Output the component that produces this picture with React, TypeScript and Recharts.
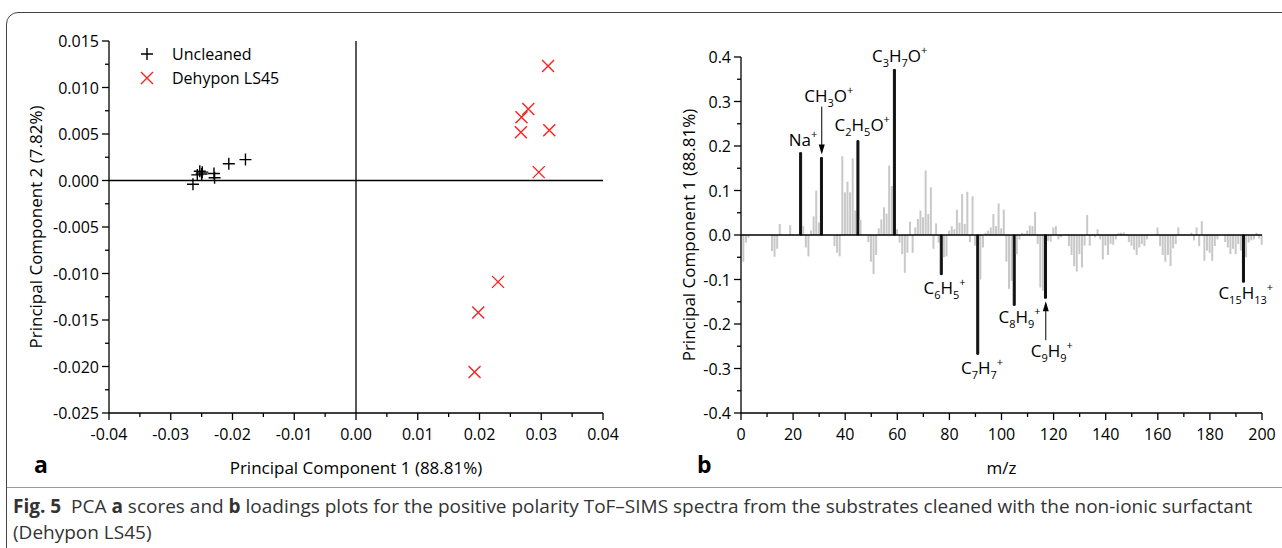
import React from 'react';
import {
  ScatterChart, Scatter, BarChart, Bar, Cell, XAxis, YAxis, ReferenceLine, ReferenceDot,
} from 'recharts';

const FONT = '"Open Sans", "Noto Sans", sans-serif';

// panel a: PCA scores (PC1, PC2) per sample
const uncleanedPC1 = [-0.0264, -0.0257, -0.0253, -0.0249, -0.0250, -0.0230, -0.0229, -0.0206, -0.0179];
const uncleanedPC2 = [-0.0004, 0.0006, 0.0010, 0.0009, 0.0007, 0.00075, 0.0003, 0.0018, 0.00225];
const dehyponPC1 = [0.0311, 0.0279, 0.0268, 0.0267, 0.0313, 0.0296, 0.0230, 0.0198, 0.0192];
const dehyponPC2 = [0.0123, 0.0077, 0.0068, 0.0052, 0.0054, 0.0009, -0.0109, -0.0142, -0.0206];

const scoreXTicks = [-0.04, -0.03, -0.02, -0.01, 0, 0.01, 0.02, 0.03, 0.04];
const scoreXMinor = [-0.035, -0.025, -0.015, -0.005, 0.005, 0.015, 0.025, 0.035];
const scoreYTicks = [-0.025, -0.02, -0.015, -0.01, -0.005, 0, 0.005, 0.01, 0.015];
const scoreYMinor = [-0.0225, -0.0175, -0.0125, -0.0075, -0.0025, 0.0025, 0.0075, 0.0125];

// panel b: PC1 loadings, one value per nominal mass, m/z 1..200
const loadings = [
  -0.060, -0.017, -0.006, 0, 0, 0, 0, 0, 0, 0,
  0, -0.036, -0.049, -0.031, 0.025, 0, 0, 0, 0.022, 0,
  0, 0, 0.185, 0.020, -0.028, -0.048, 0.010, 0.042, 0.100, 0.028,
  0.174, 0, 0, 0, 0, -0.025, -0.040, -0.048, 0.177, 0.096,
  0.120, 0.096, 0.172, 0.055, 0.212, 0.034, 0, 0, -0.016, -0.060,
  -0.088, -0.045, 0.015, 0.035, 0.062, 0.048, 0.156, 0.110, 0.372, 0.013,
  -0.017, -0.043, -0.085, -0.040, 0.030, -0.040, 0.017, 0.036, 0.055, 0.040,
  0.145, 0.047, 0.107, -0.031, 0.026, -0.017, -0.089, -0.050, -0.048, 0.010,
  0.020, 0.013, 0.057, 0.028, 0.092, 0.025, 0.097, -0.016, 0.087, -0.024,
  -0.268, -0.100, -0.028, 0.005, 0.010, 0.017, 0.047, 0.020, 0.071, 0.015,
  0.057, -0.060, -0.121, -0.103, -0.158, -0.043, -0.010, 0.005, 0.003, 0.010,
  0.021, 0.020, 0.052, -0.020, -0.118, -0.125, -0.142, -0.013, -0.015, 0.017,
  0.020, -0.010, -0.005, 0, 0, -0.025, -0.045, -0.070, -0.082, -0.043,
  -0.073, -0.024, 0.045, -0.024, 0.002, -0.005, 0.013, -0.010, -0.055, -0.024,
  -0.045, -0.020, -0.022, -0.010, 0.004, 0.005, 0.006, 0.002, -0.016, -0.024,
  -0.033, -0.045, -0.028, -0.020, -0.025, -0.010, 0, 0, 0, 0.017,
  -0.025, -0.045, -0.060, -0.045, -0.070, -0.030, -0.020, 0.017, 0, 0,
  0, 0, 0.005, -0.012, 0.017, -0.025, 0.031, -0.058, -0.035, -0.040,
  -0.058, -0.025, -0.010, 0, 0, -0.016, -0.028, -0.043, -0.031, -0.043,
  -0.020, -0.035, -0.106, -0.050, -0.017, -0.012, -0.010, 0.005, -0.008, -0.022,
];

// assigned peaks (drawn in black) and their ion formulas
const peakMz = [23, 31, 45, 59, 77, 91, 105, 117, 193];
const peakNames: [string, string][][] = [
  [['Na', ''], ['+', 'sup']],
  [['CH', ''], ['3', 'sub'], ['O', ''], ['+', 'sup']],
  [['C', ''], ['2', 'sub'], ['H', ''], ['5', 'sub'], ['O', ''], ['+', 'sup']],
  [['C', ''], ['3', 'sub'], ['H', ''], ['7', 'sub'], ['O', ''], ['+', 'sup']],
  [['C', ''], ['6', 'sub'], ['H', ''], ['5', 'sub'], ['+', 'sup']],
  [['C', ''], ['7', 'sub'], ['H', ''], ['7', 'sub'], ['+', 'sup']],
  [['C', ''], ['8', 'sub'], ['H', ''], ['9', 'sub'], ['+', 'sup']],
  [['C', ''], ['9', 'sub'], ['H', ''], ['9', 'sub'], ['+', 'sup']],
  [['C', ''], ['15', 'sub'], ['H', ''], ['13', 'sub'], ['+', 'sup']],
];
// label placement relative to bar end (px): dx, baseline dy, arrow
const peakLabelDx = [2, 7, 4, 5, 3, 4, 5, 6, 2];
const peakLabelDy = [-7, -56, -10, -7, 19, 20, 18, 59, 17];
const peakArrow = ['', 'down', '', '', '', '', '', 'up', ''];

const loadXTicks = [0, 20, 40, 60, 80, 100, 120, 140, 160, 180, 200];
const loadXMinor = [10, 30, 50, 70, 90, 110, 130, 150, 170, 190];
const loadYTicks = [-0.4, -0.3, -0.2, -0.1, 0, 0.1, 0.2, 0.3, 0.4];
const loadYMinor = [-0.35, -0.25, -0.15, -0.05, 0.05, 0.15, 0.25, 0.35];

const uncleanedData = uncleanedPC1.map((x, i) => ({ x, y: uncleanedPC2[i] }));
const dehyponData = dehyponPC1.map((x, i) => ({ x, y: dehyponPC2[i] }));
const loadingData = loadings.map((v, i) => ({ mz: i + 1, v }));

const isIn = (list: number[], v: number) => list.some((m) => Math.abs(m - v) < 1e-9);

const makeXTick = (major: number[], fmt: (v: number) => string) => (props: any) => {
  const { x, y, payload } = props;
  const big = isIn(major, payload.value);
  return (
    <g>
      <line x1={x} x2={x} y1={y} y2={y + (big ? 7 : 4)} stroke="#000" strokeWidth={1.3} />
      {big && (
        <text x={x} y={y + 27} textAnchor="middle" fontSize={16} fill="#000" fontFamily={FONT}>
          {fmt(payload.value)}
        </text>
      )}
    </g>
  );
};

const makeYTick = (major: number[], fmt: (v: number) => string) => (props: any) => {
  const { x, y, payload } = props;
  const big = isIn(major, payload.value);
  return (
    <g>
      <line x1={x - (big ? 7 : 4)} x2={x} y1={y} y2={y} stroke="#000" strokeWidth={1.3} />
      {big && (
        <text x={x - 10} y={y + 6} textAnchor="end" fontSize={16} fill="#000" fontFamily={FONT}>
          {fmt(payload.value)}
        </text>
      )}
    </g>
  );
};

const PlusMark = (p: any) => (
  <path d={`M${p.cx - 6},${p.cy}H${p.cx + 6}M${p.cx},${p.cy - 6}V${p.cy + 6}`} stroke="#000" strokeWidth={1.4} fill="none" />
);
const CrossMark = (p: any) => (
  <path
    d={`M${p.cx - 6},${p.cy - 6}L${p.cx + 6},${p.cy + 6}M${p.cx + 6},${p.cy - 6}L${p.cx - 6},${p.cy + 6}`}
    stroke="#ff1f1f" strokeWidth={1.4} fill="none"
  />
);

const formula = (parts: [string, string][]) => {
  let shift = 0;
  return parts.map(([t, kind], i) => {
    const target = kind === 'sub' ? 5 : kind === 'sup' ? -8 : 0;
    const dy = target - shift;
    shift = target;
    return (
      <tspan key={i} dy={dy} fontSize={kind ? 11 : 17}>{t}</tspan>
    );
  });
};

const PeakLabel = (i: number) => (props: any) => {
  const { cx, cy } = props;
  if (cx == null || cy == null) return null;
  const ty = cy + peakLabelDy[i];
  return (
    <g>
      <text x={cx + peakLabelDx[i]} y={ty} textAnchor="middle" fill="#000" fontFamily={FONT}>
        {formula(peakNames[i])}
      </text>
      {peakArrow[i] === 'down' && (
        <g>
          <line x1={cx} x2={cx} y1={ty + 5} y2={cy - 6} stroke="#000" strokeWidth={1} />
          <path d={`M${cx - 3},${cy - 13}L${cx + 3},${cy - 13}L${cx},${cy - 3}Z`} fill="#000" />
        </g>
      )}
      {peakArrow[i] === 'up' && (
        <g>
          <line x1={cx} x2={cx} y1={ty - 17} y2={cy + 6} stroke="#000" strokeWidth={1} />
          <path d={`M${cx - 3},${cy + 13}L${cx + 3},${cy + 13}L${cx},${cy + 3}Z`} fill="#000" />
        </g>
      )}
    </g>
  );
};

const rotTitle = (text: string, dx: number) => (props: any) => {
  const vb = props.viewBox;
  const x = vb.x + dx;
  const y = vb.y + vb.height / 2;
  return (
    <text x={x} y={y} transform={`rotate(-90 ${x} ${y})`} textAnchor="middle" dominantBaseline="central"
      fontSize={17} fill="#000" fontFamily={FONT}>{text}</text>
  );
};

const xTitle = (text: string) => (props: any) => {
  const vb = props.viewBox;
  return (
    <text x={vb.x + vb.width / 2} y={vb.y + 61} textAnchor="middle" fontSize={17} fill="#000" fontFamily={FONT}>
      {text}
    </text>
  );
};

export default function App() {
  return (
    <div style={{ position: 'absolute', left: 0, top: 0, width: 1282, height: 548, background: '#fff', overflow: 'hidden', fontFamily: FONT }}>
      <div style={{ position: 'absolute', left: 6, top: 12, width: 1320, height: 600, border: '1px solid #444', borderRadius: 12 }} />

      <div style={{ position: 'absolute', left: 0, top: 0 }}>
        <ScatterChart width={620} height={490} margin={{ top: 41, right: 17, bottom: 47, left: 49 }}>
          <XAxis
            type="number" dataKey="x" domain={[-0.04, 0.04]} ticks={[...scoreXTicks, ...scoreXMinor]}
            interval={0} height={30} tickSize={0} tickMargin={0}
            axisLine={{ stroke: '#000', strokeWidth: 1.3 }}
            tick={makeXTick(scoreXTicks, (v) => v.toFixed(2))}
            label={xTitle('Principal Component 1 (88.81%)')}
          />
          <YAxis
            type="number" dataKey="y" domain={[-0.025, 0.015]} ticks={[...scoreYTicks, ...scoreYMinor]}
            interval={0} width={60} tickSize={0} tickMargin={0}
            axisLine={{ stroke: '#000', strokeWidth: 1.3 }}
            tick={makeYTick(scoreYTicks, (v) => v.toFixed(3))}
            label={rotTitle('Principal Component 2 (7.82%)', -14)}
          />
          <ReferenceLine x={0} stroke="#000" strokeWidth={1.3} />
          <ReferenceLine y={0} stroke="#000" strokeWidth={1.3} />
          <Scatter name="Uncleaned" data={uncleanedData} shape={PlusMark} isAnimationActive={false} />
          <Scatter name="Dehypon LS45" data={dehyponData} shape={CrossMark} isAnimationActive={false} />
        </ScatterChart>
      </div>

      <div style={{ position: 'absolute', left: 138, top: 42, fontSize: 16, lineHeight: '24px', color: '#000' }}>
        <div style={{ display: 'flex', alignItems: 'center' }}>
          <svg width={18} height={16}><path d="M3,8H15M9,2V14" stroke="#000" strokeWidth={1.4} /></svg>
          <span style={{ marginLeft: 16 }}>Uncleaned</span>
        </div>
        <div style={{ display: 'flex', alignItems: 'center' }}>
          <svg width={18} height={16}><path d="M3,2L15,14M15,2L3,14" stroke="#ff1f1f" strokeWidth={1.4} /></svg>
          <span style={{ marginLeft: 16 }}>Dehypon LS45</span>
        </div>
      </div>

      <div style={{ position: 'absolute', left: 640, top: 0 }}>
        <BarChart width={640} height={490} data={loadingData} margin={{ top: 57, right: 18, bottom: 47, left: 41 }}>
          <XAxis
            type="number" dataKey="mz" domain={[0, 200]} ticks={[...loadXTicks, ...loadXMinor]}
            interval={0} height={30} tickSize={0} tickMargin={0}
            axisLine={{ stroke: '#000', strokeWidth: 1.3 }}
            tick={makeXTick(loadXTicks, (v) => String(v))}
            label={xTitle('m/z')}
          />
          <YAxis
            type="number" domain={[-0.4, 0.4]} ticks={[...loadYTicks, ...loadYMinor]}
            interval={0} width={60} tickSize={0} tickMargin={0}
            axisLine={{ stroke: '#000', strokeWidth: 1.3 }}
            tick={makeYTick(loadYTicks, (v) => v.toFixed(1))}
            label={rotTitle('Principal Component 1 (88.81%)', 7)}
          />
          <Bar dataKey="v" barSize={2} isAnimationActive={false}>
            {loadingData.map((d) => {
              const peak = peakMz.includes(d.mz);
              return (
                <Cell
                  key={d.mz}
                  fill={peak ? '#111' : '#c8c8c8'}
                  stroke={peak ? '#111' : 'none'}
                  strokeWidth={peak ? 1 : 0}
                />
              );
            })}
          </Bar>
          <ReferenceLine y={0} stroke="#000" strokeWidth={1.5} />
          {peakMz.map((mz, i) => (
            <ReferenceDot key={mz} x={mz} y={loadings[mz - 1]} r={1} shape={PeakLabel(i)} />
          ))}
        </BarChart>
      </div>

      <div style={{ position: 'absolute', left: 34, top: 448, fontSize: 23, fontWeight: 700 }}>a</div>
      <div style={{ position: 'absolute', left: 697, top: 448, fontSize: 23, fontWeight: 700 }}>b</div>

      <div style={{ position: 'absolute', left: 7, top: 487, width: 1290, borderTop: '1px solid #999' }} />
      <div style={{ position: 'absolute', left: 13, top: 493, fontSize: 19, lineHeight: '26px', color: '#333', whiteSpace: 'nowrap' }}>
        <b>Fig. 5</b>&nbsp;&nbsp;PCA <b>a</b> scores and <b>b</b> loadings plots for the positive polarity ToF–SIMS spectra from the substrates cleaned with the non-ionic surfactant
        <br />
        (Dehypon LS45)
      </div>
    </div>
  );
}
